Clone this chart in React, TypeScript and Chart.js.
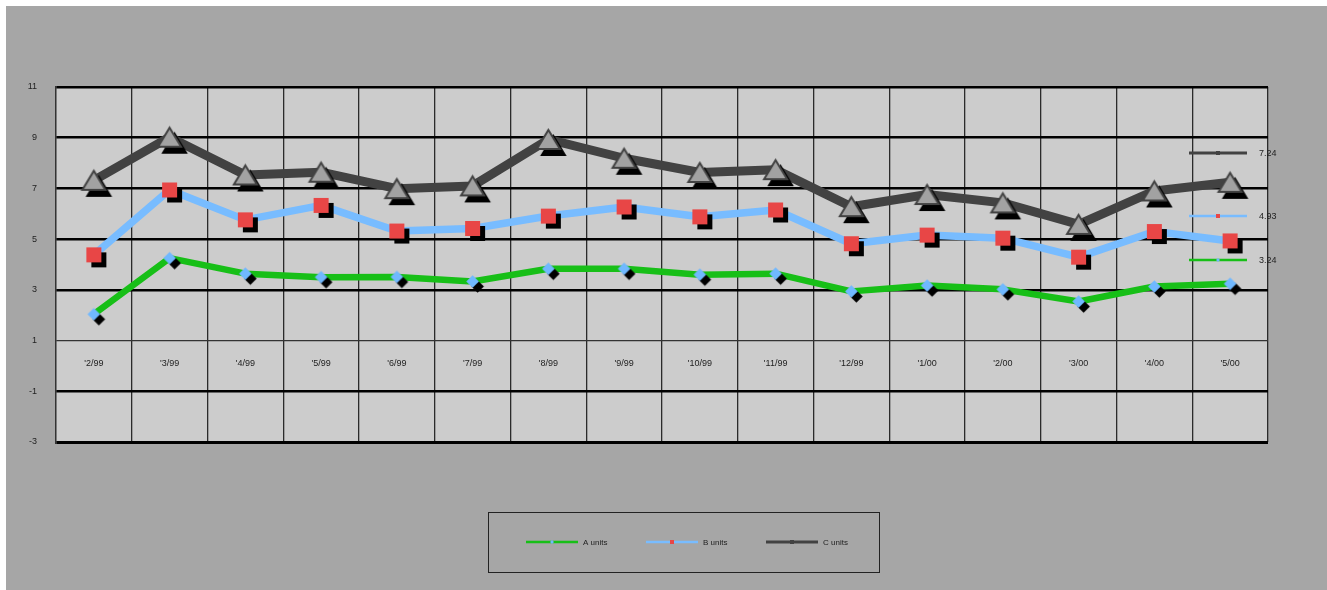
import React, { useEffect, useRef } from 'react';
import { Chart, registerables } from 'chart.js';

Chart.register(...registerables);

const categories = ["'2/99", "'3/99", "'4/99", "'5/99", "'6/99", "'7/99", "'8/99", "'9/99", "'10/99", "'11/99", "'12/99", "'1/00", "'2/00", "'3/00", "'4/00", "'5/00"];
const aUnits = [2.04, 4.25, 3.64, 3.5, 3.51, 3.33, 3.83, 3.83, 3.6, 3.64, 2.94, 3.17, 3.02, 2.54, 3.13, 3.24];
const bUnits = [4.38, 6.94, 5.76, 6.33, 5.32, 5.42, 5.91, 6.27, 5.88, 6.15, 4.82, 5.16, 5.04, 4.29, 5.3, 4.93];
const cUnits = [7.32, 9.02, 7.53, 7.64, 6.99, 7.1, 8.93, 8.19, 7.63, 7.74, 6.28, 6.76, 6.43, 5.58, 6.9, 7.24];
const seriesNames = ['A units', 'B units', 'C units'];
const yMin = -3;
const yMax = 11;
const yStep = 2;

const FONT = '"Liberation Sans", Arial, Helvetica, sans-serif';
const W = 1321;
const H = 584;

const GREEN = '#17bf17';
const BLUE = '#78bcff';
const DARK = '#424242';
const RED = '#e84646';
const DIAMOND = '#70b8ff';
const TRI = '#a2a2a2';

function makeMarker(kind: string, fill: string, stroke: string, strokeW: number, hw: number, hh: number, sx: number, sy: number) {
  const pad = Math.max(sx, sy) + strokeW + 3;
  const S = Math.ceil(2 * (Math.max(hw, hh) + pad));
  const c = document.createElement('canvas');
  c.width = S;
  c.height = S;
  const ctx = c.getContext('2d')!;
  const path = (cx: number, cy: number) => {
    ctx.beginPath();
    if (kind === 'tri') {
      ctx.moveTo(cx, cy - hh);
      ctx.lineTo(cx + hw, cy + hh);
      ctx.lineTo(cx - hw, cy + hh);
      ctx.closePath();
    } else if (kind === 'rect') {
      ctx.rect(cx - hw, cy - hh, 2 * hw, 2 * hh);
    } else {
      ctx.moveTo(cx, cy - hh);
      ctx.lineTo(cx + hw, cy);
      ctx.lineTo(cx, cy + hh);
      ctx.lineTo(cx - hw, cy);
      ctx.closePath();
    }
  };
  const m = S / 2;
  ctx.lineJoin = 'miter';
  path(m + sx, m + sy);
  ctx.fillStyle = '#000';
  ctx.fill();
  if (strokeW) {
    ctx.lineWidth = strokeW;
    ctx.strokeStyle = '#000';
    ctx.stroke();
  }
  path(m, m);
  ctx.fillStyle = fill;
  ctx.fill();
  if (strokeW) {
    ctx.lineWidth = strokeW;
    ctx.strokeStyle = stroke;
    ctx.stroke();
  }
  return c;
}

function drawMini(ctx: CanvasRenderingContext2D, kind: string, x: number, y: number, s: number, color: string) {
  ctx.fillStyle = color;
  ctx.beginPath();
  if (kind === 'rect') {
    ctx.rect(x - s, y - s, 2 * s, 2 * s);
  } else {
    ctx.moveTo(x, y - s);
    ctx.lineTo(x + s, y);
    ctx.lineTo(x, y + s);
    ctx.lineTo(x - s, y);
    ctx.closePath();
  }
  ctx.fill();
}

const samples = [
  { line: GREEN, marker: DIAMOND, kind: 'diamond', lw: 2.5 },
  { line: BLUE, marker: RED, kind: 'rect', lw: 2.5 },
  { line: DARK, marker: DARK, kind: 'rect', lw: 3 },
];

const bgPlugin = {
  id: 'plotBg',
  beforeDraw(chart: any) {
    const { ctx, chartArea } = chart;
    ctx.save();
    ctx.fillStyle = '#cccccc';
    ctx.fillRect(chartArea.left, chartArea.top, chartArea.right - chartArea.left, chartArea.bottom - chartArea.top);
    ctx.restore();
  },
};

const catLabelPlugin = {
  id: 'catLabels',
  beforeDatasetsDraw(chart: any) {
    const { ctx } = chart;
    const xs = chart.scales.x;
    const ys = chart.scales.y;
    const y = ys.getPixelForValue(0) - 2;
    ctx.save();
    ctx.font = `9px ${FONT}`;
    ctx.fillStyle = '#222';
    ctx.textAlign = 'center';
    ctx.textBaseline = 'middle';
    categories.forEach((c, i) => {
      ctx.fillText(c, xs.getPixelForValue(i), y);
    });
    ctx.restore();
  },
};

const sideLabelPlugin = {
  id: 'sideLabels',
  afterDatasetsDraw(chart: any) {
    const { ctx, chartArea } = chart;
    const sets = [
      { idx: 2, dy: 66 },
      { idx: 1, dy: 129 },
      { idx: 0, dy: 173 },
    ];
    ctx.save();
    sets.forEach(({ idx, dy }) => {
      const data = chart.data.datasets[idx].data as number[];
      const y = chartArea.top + dy;
      const x0 = chartArea.right - 79;
      const x1 = chartArea.right - 21;
      const s = samples[idx];
      ctx.strokeStyle = s.line;
      ctx.lineWidth = s.lw;
      ctx.beginPath();
      ctx.moveTo(x0, y);
      ctx.lineTo(x1, y);
      ctx.stroke();
      drawMini(ctx, s.kind, (x0 + x1) / 2, y, 2, s.marker);
      ctx.font = `9px ${FONT}`;
      ctx.fillStyle = '#222';
      ctx.textAlign = 'left';
      ctx.textBaseline = 'middle';
      ctx.fillText(data[data.length - 1].toFixed(2), chartArea.right - 9, y + 0.5);
    });
    ctx.restore();
  },
};

const legendPlugin = {
  id: 'customLegend',
  afterDraw(chart: any) {
    const { ctx } = chart;
    const bx = 482, by = 506, bw = 391, bh = 60;
    ctx.save();
    ctx.strokeStyle = '#222';
    ctx.lineWidth = 1;
    ctx.strokeRect(bx + 0.5, by + 0.5, bw, bh);
    const cy = by + 30;
    const starts = [520, 640, 760];
    seriesNames.forEach((name, i) => {
      const s = samples[i];
      const x0 = starts[i];
      const x1 = x0 + 52;
      ctx.strokeStyle = s.line;
      ctx.lineWidth = s.lw;
      ctx.beginPath();
      ctx.moveTo(x0, cy);
      ctx.lineTo(x1, cy);
      ctx.stroke();
      drawMini(ctx, s.kind, (x0 + x1) / 2, cy, 2, s.marker);
      ctx.font = `8px ${FONT}`;
      ctx.fillStyle = '#222';
      ctx.textAlign = 'left';
      ctx.textBaseline = 'middle';
      ctx.fillText(name, x1 + 5, cy + 0.5);
    });
    ctx.restore();
  },
};

export default function App() {
  const ref = useRef<HTMLCanvasElement | null>(null);
  useEffect(() => {
    if (!ref.current) return;
    const mA = makeMarker('diamond', DIAMOND, DIAMOND, 0, 6.3, 6.3, 5, 5);
    const mB = makeMarker('rect', RED, RED, 0, 7.5, 7.5, 5, 5);
    const mC = makeMarker('tri', TRI, DARK, 2, 11.5, 9.5, 5, 6);
    const chart = new Chart(ref.current, {
      type: 'line',
      data: {
        labels: categories,
        datasets: [
          { label: seriesNames[0], data: aUnits, borderColor: GREEN, backgroundColor: GREEN, borderWidth: 6.5, pointStyle: mA as any, pointRadius: 6, tension: 0, fill: false, borderJoinStyle: 'round' },
          { label: seriesNames[1], data: bUnits, borderColor: BLUE, backgroundColor: BLUE, borderWidth: 7.5, pointStyle: mB as any, pointRadius: 8, tension: 0, fill: false, borderJoinStyle: 'round' },
          { label: seriesNames[2], data: cUnits, borderColor: DARK, backgroundColor: DARK, borderWidth: 9, pointStyle: mC as any, pointRadius: 12, tension: 0, fill: false, borderJoinStyle: 'round' },
        ],
      },
      options: {
        responsive: false,
        animation: false,
        events: [],
        layout: { padding: { top: 81, right: 59, bottom: 148, left: 0 } },
        plugins: {
          legend: { display: false },
          tooltip: { enabled: false },
          title: { display: false },
        },
        scales: {
          x: {
            type: 'category',
            offset: true,
            grid: { offset: true, color: '#2a2a2a', lineWidth: 1.3, drawTicks: false },
            border: { display: false },
            ticks: { display: false },
            afterFit: (s: any) => { s.height = 0; },
          },
          y: {
            min: yMin,
            max: yMax,
            ticks: { stepSize: yStep, padding: 19, color: '#222', font: { family: FONT, size: 9 } },
            grid: {
              drawTicks: false,
              color: (c: any) => (c.tick && c.tick.value === 1 ? '#333' : '#000'),
              lineWidth: (c: any) => (c.tick && c.tick.value === 1 ? 1.3 : c.tick && c.tick.value === -3 ? 3 : 2.5),
            },
            border: { display: true, color: '#333', width: 1.3 },
            afterFit: (s: any) => { s.width = 50; },
          },
        },
      },
      plugins: [bgPlugin, catLabelPlugin, sideLabelPlugin, legendPlugin],
    } as any);
    return () => chart.destroy();
  }, []);
  return (
    <div style={{ position: 'absolute', left: 6, top: 6, width: W, height: H, background: '#a6a6a6' }}>
      <canvas ref={ref} width={W} height={H} style={{ display: 'block' }} />
    </div>
  );
}
